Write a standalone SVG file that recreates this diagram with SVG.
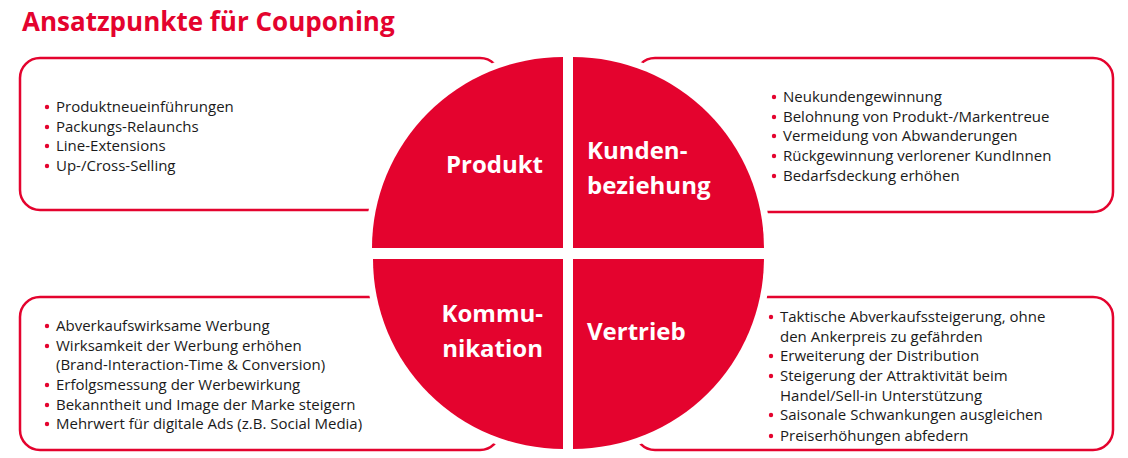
<svg xmlns="http://www.w3.org/2000/svg" width="1128" height="458" viewBox="0 0 1128 458">
<style>
.box{fill:#fff;stroke:#e4032e;stroke-width:2.5}
.q{fill:#e4032e;stroke:#fff;stroke-width:14;paint-order:stroke}
.t{font-family:"Open Sans",sans-serif;font-size:15px;fill:#1a1a1a}
.b{fill:#e4032e}
.lab{font-family:"Open Sans",sans-serif;font-size:24px;font-weight:bold;fill:#fff}
</style>
<text x="22" y="31" font-family="Open Sans, sans-serif" font-size="26" font-weight="bold" fill="#e4032e">Ansatzpunkte für Couponing</text>
<g id="box-produkt"><rect class="box" x="20" y="58" width="480" height="152" rx="20"/>
<text class="t" x="56" y="112">Produktneueinführungen</text><text class="t" x="56" y="132">Packungs-Relaunchs</text><text class="t" x="56" y="151">Line-Extensions</text><text class="t" x="56" y="171">Up-/Cross-Selling</text>
<g class="b"><circle cx="47" cy="107" r="2.2"/><circle cx="47" cy="127" r="2.2"/><circle cx="47" cy="146" r="2.2"/><circle cx="47" cy="166" r="2.2"/></g></g>
<g id="box-kunden"><rect class="box" x="635" y="58" width="478" height="154" rx="20"/>
<text class="t" x="783" y="102">Neukundengewinnung</text><text class="t" x="783" y="122">Belohnung von Produkt-/Markentreue</text><text class="t" x="783" y="141">Vermeidung von Abwanderungen</text><text class="t" x="783" y="161">Rückgewinnung verlorener KundInnen</text><text class="t" x="783" y="181">Bedarfsdeckung erhöhen</text>
<g class="b"><circle cx="774" cy="97" r="2.2"/><circle cx="774" cy="117" r="2.2"/><circle cx="774" cy="136" r="2.2"/><circle cx="774" cy="156" r="2.2"/><circle cx="774" cy="176" r="2.2"/></g></g>
<g id="box-komm"><rect class="box" x="20" y="297" width="480" height="153" rx="20"/>
<text class="t" x="56" y="331">Abverkaufswirksame Werbung</text><text class="t" x="56" y="351">Wirksamkeit der Werbung erhöhen</text><text class="t" x="56" y="370">(Brand-Interaction-Time &amp; Conversion)</text><text class="t" x="56" y="390">Erfolgsmessung der Werbewirkung</text><text class="t" x="56" y="410">Bekanntheit und Image der Marke steigern</text><text class="t" x="56" y="429">Mehrwert für digitale Ads (z.B. Social Media)</text>
<g class="b"><circle cx="47" cy="326" r="2.2"/><circle cx="47" cy="346" r="2.2"/><circle cx="47" cy="385" r="2.2"/><circle cx="47" cy="405" r="2.2"/><circle cx="47" cy="424" r="2.2"/></g></g>
<g id="box-vertrieb"><rect class="box" x="635" y="297" width="478" height="153" rx="20"/>
<text class="t" x="780" y="322">Taktische Abverkaufssteigerung, ohne</text><text class="t" x="780" y="342">den Ankerpreis zu gefährden</text><text class="t" x="780" y="361">Erweiterung der Distribution</text><text class="t" x="780" y="381">Steigerung der Attraktivität beim</text><text class="t" x="780" y="401">Handel/Sell-in Unterstützung</text><text class="t" x="780" y="420">Saisonale Schwankungen ausgleichen</text><text class="t" x="780" y="441">Preiserhöhungen abfedern</text>
<g class="b"><circle cx="771" cy="317" r="2.2"/><circle cx="771" cy="356" r="2.2"/><circle cx="771" cy="376" r="2.2"/><circle cx="771" cy="415" r="2.2"/><circle cx="771" cy="436" r="2.2"/></g></g>
<g id="connectors"></g>
<g id="q-produkt"><path class="q" d="M563 248 H372 A191 191 0 0 1 563 57 Z"/><text class="lab" x="543" y="173" text-anchor="end">Produkt</text></g>
<g id="q-kunden"><path class="q" d="M573 248 V57 A191 191 0 0 1 764 248 Z"/><text class="lab" x="587" y="159">Kunden-</text><text class="lab" x="587" y="194">beziehung</text></g>
<g id="q-komm"><path class="q" d="M563 259 V449 A190 190 0 0 1 373 259 Z"/><text class="lab" x="543" y="322" text-anchor="end">Kommu-</text><text class="lab" x="543" y="357" text-anchor="end">nikation</text></g>
<g id="q-vertrieb"><path class="q" d="M573 259 H764 A191 191 0 0 1 573 449 Z"/><text class="lab" x="587" y="340">Vertrieb</text></g>
</svg>
